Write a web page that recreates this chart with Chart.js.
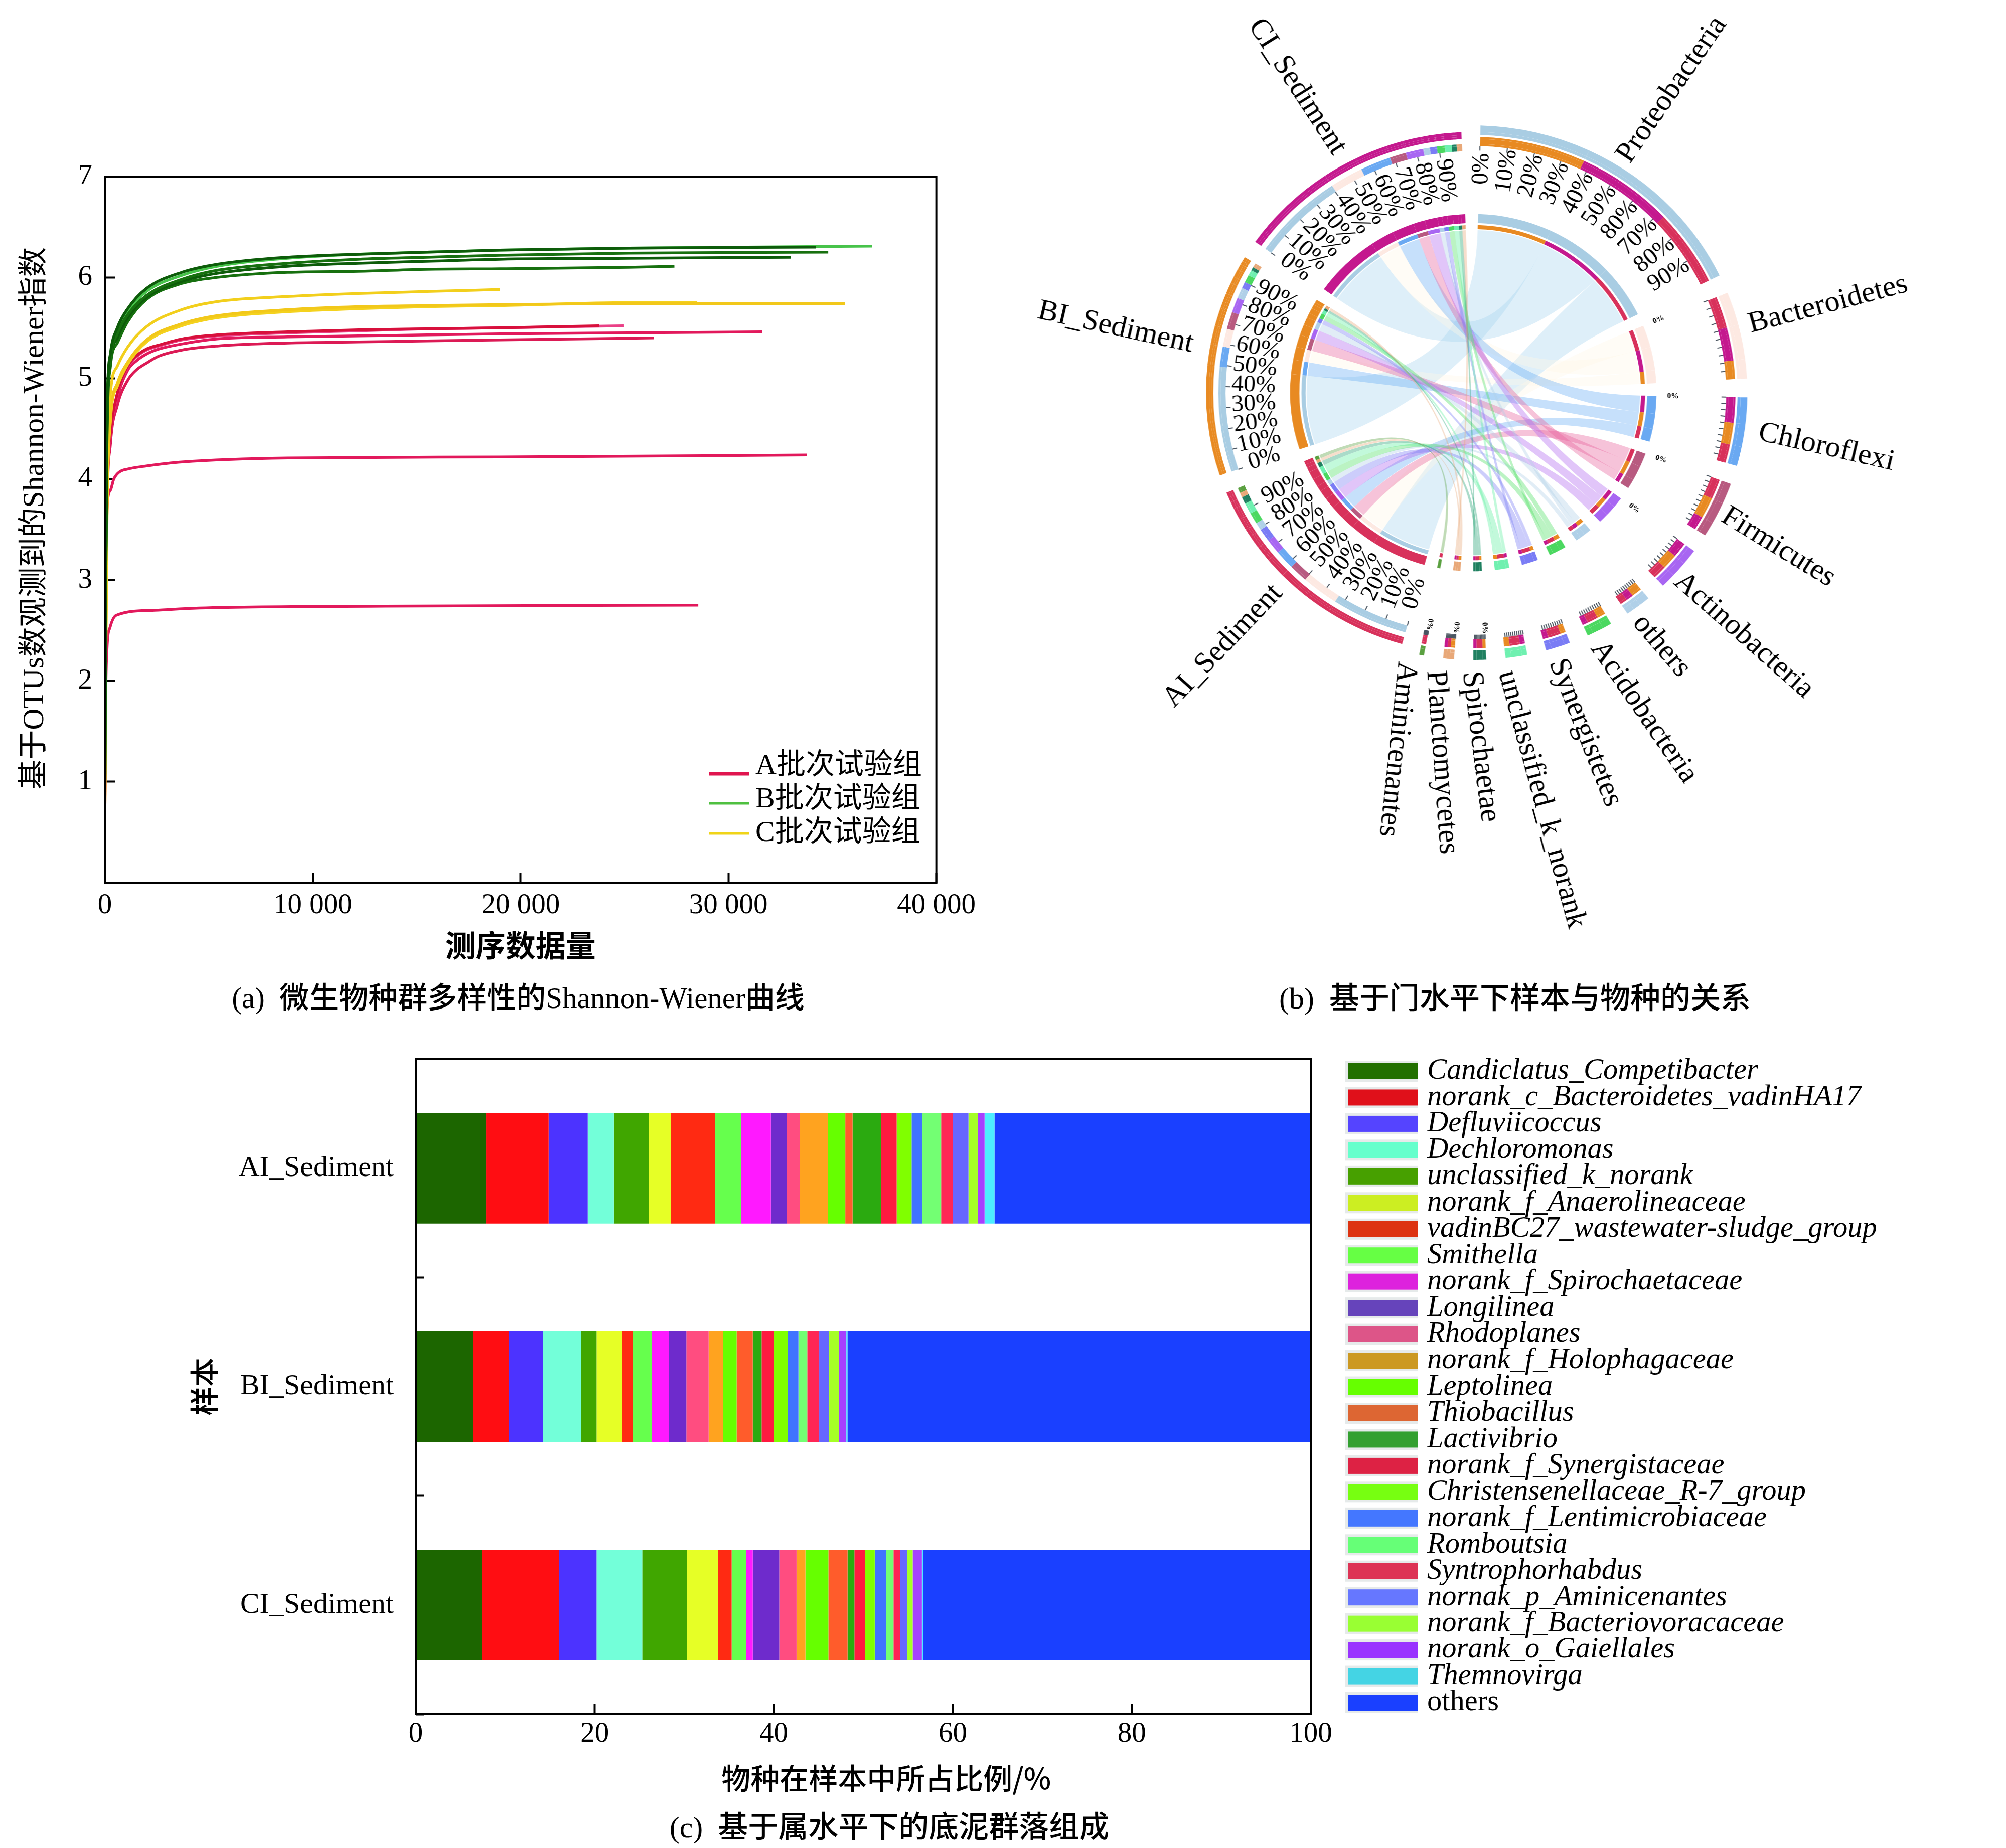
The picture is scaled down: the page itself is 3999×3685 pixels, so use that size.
<!DOCTYPE html>
<html>
<head>
<meta charset="utf-8">
<script src="https://cdn.jsdelivr.net/npm/chart.js@4"></script>
<style>
body { margin: 0; background: #fff; width: 3999px; height: 3685px; position: relative; overflow: hidden; }
canvas { position: absolute; }
.cap { position: absolute; font: 60px "Liberation Serif", "Noto Sans CJK SC"; color: #000; white-space: pre; transform: translate(-50%, -50%); }
.cap b { font-family: "Noto Sans CJK SC"; font-weight: 500; }
</style>
</head>
<body>
<canvas id="curveChart" width="1977" height="2040" style="left:0;top:0"></canvas>
<canvas id="chordChart" width="2049" height="2040" style="left:1950px;top:0;transform:scaleX(1.025);transform-origin:987px 0"></canvas>
<canvas id="barChart" width="3999" height="1669" style="left:0;top:2016px"></canvas>
<div class="cap" style="left:1033px;top:1984px;font-size:59px">(a)  <b>微生物种群多样性的</b>Shannon-Wiener<b>曲线</b></div>
<div class="cap" style="left:3020px;top:1984px">(b)  <b>基于门水平下样本与物种的关系</b></div>
<div class="cap" style="left:1773px;top:3637px">(c)  <b>基于属水平下的底泥群落组成</b></div>
<script>
const SERIF = '"Liberation Serif", "Noto Sans CJK SC"';

// (a) Shannon-Wiener curves, [sequences, index]
const curveA1 = [[0,0.5],[30,2.2],[100,3.8],[270,4.45],[600,4.85],[1100,5.12],[1500,5.22],[2000,5.29],[2600,5.33],[3700,5.39],[5400,5.43],[8800,5.46],[12200,5.48],[15500,5.49],[19000,5.5],[23770,5.52]];
const curveA2 = [[0,0.5],[30,2.2],[100,3.8],[270,4.44],[600,4.84],[1100,5.11],[1500,5.21],[2000,5.28],[2600,5.32],[3700,5.38],[5400,5.42],[8800,5.45],[12200,5.47],[15500,5.49],[19000,5.5],[24950,5.52]];
const curveA3 = [[0,0.5],[30,2.1],[100,3.7],[270,4.4],[600,4.8],[1100,5.08],[1500,5.17],[2000,5.24],[2600,5.29],[3700,5.34],[5400,5.39],[8800,5.41],[12200,5.42],[15500,5.43],[19000,5.44],[25200,5.45],[31630,5.46]];
const curveA4 = [[0,0.5],[30,2.0],[100,3.6],[270,4.35],[600,4.73],[1100,4.98],[1500,5.08],[2000,5.15],[2600,5.22],[3700,5.28],[5400,5.32],[8800,5.35],[12200,5.36],[15500,5.37],[19000,5.38],[26400,5.4]];
const curveA5 = [[0,0.5],[20,1.5],[50,2.8],[100,3.69],[270,3.89],[430,4.0],[694,4.07],[1100,4.1],[2000,4.13],[3700,4.17],[8800,4.21],[19000,4.22],[33780,4.24]];
const curveA6 = [[0,0.5],[30,1.6],[100,2.3],[250,2.53],[550,2.65],[2400,2.7],[4250,2.72],[13500,2.74],[28550,2.75]];
const curveB1 = [[0,0.5],[30,2.6],[100,4.5],[270,5.22],[600,5.46],[1100,5.66],[2000,5.86],[3700,6.02],[5400,6.11],[8800,6.19],[12200,6.23],[15500,6.25],[19000,6.27],[25200,6.29],[36900,6.31]];
const curveB2 = [[0,0.5],[30,2.6],[100,4.6],[270,5.25],[600,5.5],[1100,5.69],[2000,5.89],[3700,6.05],[5400,6.13],[8800,6.2],[12200,6.23],[15500,6.25],[19000,6.27],[25200,6.29],[34200,6.3]];
const curveB3 = [[0,0.5],[30,2.6],[100,4.5],[270,5.2],[600,5.44],[1100,5.63],[2000,5.82],[3700,5.98],[5400,6.07],[8800,6.14],[12200,6.18],[15500,6.2],[19000,6.22],[25200,6.24],[34800,6.25]];
const curveB4 = [[0,0.5],[30,2.5],[100,4.4],[270,5.17],[600,5.4],[1100,5.6],[2000,5.8],[3700,5.96],[5400,6.04],[8800,6.11],[12200,6.14],[15500,6.16],[19000,6.18],[25200,6.19],[33000,6.2]];
const curveB5 = [[0,0.5],[30,2.5],[100,4.3],[270,5.12],[600,5.35],[1100,5.56],[2000,5.78],[3700,5.94],[5400,6.0],[8800,6.05],[12200,6.06],[15500,6.08],[19000,6.085],[25200,6.1],[27400,6.11]];
const curveC1 = [[0,0.5],[30,1.8],[100,3.9],[270,4.85],[600,5.12],[1100,5.31],[2000,5.51],[3700,5.68],[5400,5.76],[8800,5.81],[12200,5.84],[15500,5.86],[19000,5.88]];
const curveC2 = [[0,0.5],[30,1.7],[100,3.6],[270,4.6],[600,4.95],[1100,5.16],[2000,5.38],[3700,5.54],[5400,5.62],[8800,5.68],[12200,5.71],[15500,5.72],[19000,5.73],[25200,5.74],[35600,5.74]];
const curveC3 = [[0,0.5],[30,1.7],[100,3.5],[270,4.58],[600,4.92],[1100,5.14],[2000,5.36],[3700,5.52],[5400,5.6],[8800,5.66],[12200,5.69],[15500,5.71],[19000,5.72],[25200,5.75],[28500,5.75]];
const curveXLabels = ['0', '10 000', '20 000', '30 000', '40 000'];
const curveLegendNames = ['A批次试验组', 'B批次试验组', 'C批次试验组'];
const curveLegendColors = ['#e0154f', '#4fc040', '#f0d418'];

// (b) chord flows: sector angle widths, one row per sample
const phyla = ['Proteobacteria', 'Bacteroidetes', 'Chloroflexi', 'Firmicutes', 'Actinobacteria', 'others', 'Acidobacteria', 'Synergistetes', 'unclassified_k_norank', 'Spirochaetae', 'Planctomycetes', 'Aminicenantes'];
const samples = ['AI_Sediment', 'BI_Sediment', 'CI_Sediment'];
const phylumSideAI = [17.4, 7.2, 4.2, 4.5, 3.1, 1.6, 2.4, 2.8, 2.3, 1.3, 0.7, 1.0];
const phylumSideBI = [23.5, 4.2, 4.9, 4.7, 3.4, 2.3, 1.9, 1.2, 1.2, 0.7, 0.9, 0];
const phylumSideCI = [21.6, 7.5, 5.8, 3.1, 3.4, 1.6, 1.2, 1.2, 1.1, 0.7, 0.7, 0];
const sampleSideAI = [17.4, 8.4, 4.5, 4.3, 3.5, 1.8, 2.6, 3.0, 2.6, 1.6, 1.1, 1.2];
const sampleSideBI = [24.5, 4.2, 4.7, 4.0, 3.5, 2.5, 1.8, 1.5, 1.3, 0.8, 1.0, 0];
const sampleSideCI = [21, 7.6, 7, 3.7, 4, 1.5, 1.8, 1.6, 1.6, 1.1, 1.2, 0];
const orderOnPhylum = [[1,2,0],[0,2,1],[2,1,0],[0,1,2],[2,1,0],[1,2,0],[1,0,2],[1,0,2],[2,0,1],[1,0,2],[1,0,2],[0]];
const orderOnAI = [0,1,3,2,4,7,5,6,8,9,10,11];
const orderOnBI = [0,2,1,3,4,5,7,6,8,9,10,11];
const orderOnCI = [0,1,2,3,4,5,7,6,8,9,10];
const phylumColors = ['#a9cde3', '#fde9e2', '#6aa9f2', '#b85a80', '#a866f2', '#b0d0e8', '#4bd860', '#7a7cf5', '#6ff0b0', '#1f8060', '#e8a878', '#5aa040'];
const ribbonColors = ['#a9d6f0', '#fff6e8', '#6aaef5', '#e8609a', '#b066f0', '#b0d0e8', '#4be060', '#7a7cf5', '#5ff0a0', '#20a070', '#e8a878', '#5aa040'];
const sampleColors = ['#d8315b', '#e88a22', '#c4188e'];
const percentLabels = ['0%', '10%', '20%', '30%', '40%', '50%', '60%', '70%', '80%', '90%'];
const proteoLabels = ['0%', '10%', '20%', '30%', '40%', '50%', '80%', '70%', '80%', '90%'];
// text placement of the sector names: name, page x, page y, rotation in degrees
const chordNames = [
	['Proteobacteria', 3333, 179, -56], ['Bacteroidetes', 3644, 607, -15], ['Chloroflexi', 3641, 892, 13],
	['Firmicutes', 3545, 1091, 32], ['Actinobacteria', 3476, 1267, 42], ['others', 3312, 1288, 50],
	['Acidobacteria', 3277, 1420, 56], ['Synergistetes', 3160, 1461, 69], ['unclassified_k_norank', 3073, 1594, 75],
	['Spirochaetae', 2951, 1489, 83], ['Planctomycetes', 2874, 1520, 86], ['Aminicenantes', 2785, 1494, 96],
	['AI_Sediment', 2438, 1288, -47], ['BI_Sediment', 2224, 653, 12.7], ['CI_Sediment', 2586, 173, 57.5]
];

// (c) genus composition
const sediments = ['AI_Sediment', 'BI_Sediment', 'CI_Sediment'];
const genera = ['Candiclatus_Competibacter', 'norank_c_Bacteroidetes_vadinHA17', 'Defluviicoccus', 'Dechloromonas', 'unclassified_k_norank', 'norank_f_Anaerolineaceae', 'vadinBC27_wastewater-sludge_group', 'Smithella', 'norank_f_Spirochaetaceae', 'Longilinea', 'Rhodoplanes', 'norank_f_Holophagaceae', 'Leptolinea', 'Thiobacillus', 'Lactivibrio', 'norank_f_Synergistaceae', 'Christensenellaceae_R-7_group', 'norank_f_Lentimicrobiaceae', 'Romboutsia', 'Syntrophorhabdus', 'nornak_p_Aminicenantes', 'norank_f_Bacteriovoracaceae', 'norank_o_Gaiellales', 'Themnovirga', 'others'];
const sharesAI = [7.85, 6.99, 4.37, 2.92, 3.90, 2.49, 4.89, 2.92, 3.34, 1.76, 1.50, 3.09, 1.97, 0.81, 3.17, 1.76, 1.67, 1.16, 2.14, 1.33, 1.72, 1.03, 0.77, 1.11, 35.33];
const sharesBI = [6.35, 4.07, 3.77, 4.29, 1.72, 2.83, 1.24, 2.10, 1.93, 1.93, 2.49, 1.59, 1.54, 1.80, 0.99, 1.37, 1.54, 1.20, 0.99, 1.33, 1.11, 1.11, 0.81, 0.13, 51.76];
const sharesCI = [7.38, 8.62, 4.20, 5.10, 5.02, 3.47, 1.50, 1.63, 0.73, 2.96, 1.93, 0.99, 2.57, 2.14, 0.77, 1.20, 1.07, 1.29, 0.81, 0.73, 0.77, 0.64, 1.03, 0.13, 43.31];
const barColors = ['#1c6600', '#ff0d12', '#4c33ff', '#73ffd9', '#40a600', '#e6ff26', '#ff2a12', '#66ff4d', '#ff19ff', '#6e2bcc', '#ff4d80', '#ffa31f', '#66ff00', '#ff5c2b', '#2baa10', '#ff1a40', '#80ff00', '#4073ff', '#73ff73', '#ff2655', '#6666ff', '#a6ff26', '#a640ff', '#4deeff', '#1a40ff'];
const swatchColors = ['#227000', '#e0101a', '#5544ff', '#66ffcc', '#47a000', '#ccee22', '#dd3311', '#66ff44', '#dd22dd', '#6644bb', '#dd5588', '#cc9922', '#66ff00', '#dd6633', '#33a030', '#dd2244', '#77ff11', '#4477ff', '#66ff77', '#dd3355', '#6677ff', '#99ff33', '#9933ff', '#44d4e4', '#1a40ff'];

Chart.defaults.animation = false;
Chart.defaults.events = [];
Chart.defaults.plugins.legend.display = false;
Chart.defaults.plugins.tooltip.enabled = false;
Chart.defaults.color = '#000';

const frame = {
	id: 'frame',
	afterDraw(chart) {
		const a = chart.chartArea, ctx = chart.ctx;
		ctx.save();
		ctx.lineWidth = 4;
		ctx.strokeStyle = '#000';
		ctx.strokeRect(a.left, a.top, a.right - a.left, a.bottom - a.top);
		ctx.restore();
	}
};

const curveLine = (data, color) => ({ data, borderColor: color, borderWidth: 5.5, pointRadius: 0, cubicInterpolationMode: 'monotone' });

new Chart(document.getElementById('curveChart'), {
	type: 'line',
	data: {
		datasets: [
			curveLine(curveB2, '#0d5c0a'), curveLine(curveB3, '#17700f'), curveLine(curveB4, '#0d5c0a'), curveLine(curveB5, '#17700f'), curveLine(curveB1, '#47c34a'),
			curveLine(curveC1, '#f2cf1c'), curveLine(curveC2, '#f2c81a'), curveLine(curveC3, '#f4d21e'),
			curveLine(curveA1, '#d8103c'), curveLine(curveA2, '#ea3f86'), curveLine(curveA3, '#e2195c'), curveLine(curveA4, '#dc1a55'), curveLine(curveA5, '#e2195c'), curveLine(curveA6, '#e2195c')
		]
	},
	options: {
		responsive: false,
		layout: { padding: { left: 0, right: 54, top: 352, bottom: 119 } },
		scales: {
			x: {
				type: 'linear', min: 0, max: 40000,
				border: { display: false },
				grid: { drawOnChartArea: false, tickLength: -20, tickWidth: 4, tickColor: '#000' },
				ticks: { stepSize: 10000, maxRotation: 0, padding: 32, font: { family: SERIF, size: 57 }, callback: (v, i) => curveXLabels[i] },
				title: { display: true, text: '测序数据量', font: { family: '"Noto Sans CJK SC"', size: 60, weight: 'bold' }, padding: 0 },
				afterFit: s => { s.height = 161; }
			},
			y: {
				min: 0, max: 7,
				border: { display: false },
				grid: { drawOnChartArea: false, tickLength: -20, tickWidth: 4, tickColor: '#000' },
				ticks: { stepSize: 1, padding: 45, font: { family: SERIF, size: 57 }, callback: v => v === 0 ? '' : v },
				title: { display: true, text: '   基于OTUs数观测到的Shannon-Wiener指数', font: { family: SERIF, size: 59.5 }, padding: { top: 35, bottom: 0 } },
				afterFit: s => { s.width = 209; }
			}
		}
	},
	plugins: [frame, {
		id: 'curveLegend',
		afterDraw(chart) {
			const ctx = chart.ctx, lineY = [1543, 1602, 1662], textY = [1528, 1595, 1662];
			ctx.save();
			ctx.font = '58px ' + SERIF;
			ctx.textBaseline = 'middle';
			curveLegendNames.forEach((name, i) => {
				ctx.strokeStyle = curveLegendColors[i];
				ctx.lineWidth = i ? 5 : 7;
				ctx.beginPath();
				ctx.moveTo(1414, lineY[i]);
				ctx.lineTo(1494, lineY[i]);
				ctx.stroke();
				ctx.fillStyle = '#000';
				ctx.fillText(name, 1506, textY[i]);
			});
			ctx.restore();
		}
	}]
});

// one flat list of slices running round the circle, every ring paints it its own way
const phylumSide = [phylumSideAI, phylumSideBI, phylumSideCI];
const sampleSide = [sampleSideAI, sampleSideBI, sampleSideCI];
const sampleOrders = [orderOnAI, orderOnBI, orderOnCI];
const slices = [];
const sectors = [];
const gap = { gap: true, value: 0 };
phyla.forEach((name, p) => {
	const first = slices.length;
	orderOnPhylum[p].forEach(s => slices.push({ value: phylumSide[s][p], kind: 'phylum', sector: phylumColors[p], sub: sampleColors[s], p, s }));
	sectors.push({ name, first, last: slices.length - 1, kind: 'phylum' });
	slices.push(gap);
});
samples.forEach((name, s) => {
	const first = slices.length;
	sampleOrders[s].forEach(p => slices.push({ value: sampleSide[s][p], kind: 'sample', sector: sampleColors[s], sub: phylumColors[p], p, s }));
	sectors.push({ name, first, last: slices.length - 1, kind: 'sample' });
	slices.push(gap);
});
const flowTotal = slices.reduce((t, x) => t + x.value, 0);
const gapWidth = (360 - flowTotal) / sectors.length;
const sliceValues = slices.map(x => x.gap ? gapWidth : x.value);

const NONE = 'rgba(0,0,0,0)';
// weight, then colour of a slice in that ring; outermost ring first
const rings = [
	[13, x => x.kind === 'phylum' ? x.sector : NONE],
	[6, x => x.gap ? NONE : x.sector],
	[4, x => x.kind === 'sample' ? x.sector : NONE],
	[4, x => x.kind === 'phylum' ? x.sub : x.kind === 'sample' ? x.sector : NONE],
	[10, x => x.kind === 'phylum' ? x.sub : NONE],
	[4, x => x.gap ? NONE : x.sub],
	[10, x => x.kind === 'sample' ? x.sub : NONE],
	[125, () => NONE],
	[18, x => x.gap ? NONE : x.sector],
	[4, () => NONE],
	[8, x => x.gap ? NONE : x.sub]
];

const chordPlugin = {
	id: 'chord',
	beforeDatasetsDraw(chart) {
		const ctx = chart.ctx, inner = chart.getDatasetMeta(rings.length - 1).data;
		const find = (kind, p, s) => inner[slices.findIndex(x => x.kind === kind && x.p === p && x.s === s)];
		ctx.save();
		ctx.globalAlpha = 0.38;
		phyla.forEach((name, p) => {
			samples.forEach((sname, s) => {
				const a = find('sample', p, s), b = find('phylum', p, s);
				if (!a || !b || phylumSide[s][p] === 0) return;
				const r = a.innerRadius - 2, cx = a.x, cy = a.y;
				ctx.fillStyle = ribbonColors[p];
				ctx.beginPath();
				ctx.arc(cx, cy, r, a.startAngle, a.endAngle);
				ctx.quadraticCurveTo(cx, cy, cx + r * Math.cos(b.startAngle), cy + r * Math.sin(b.startAngle));
				ctx.arc(cx, cy, r, b.startAngle, b.endAngle);
				ctx.quadraticCurveTo(cx, cy, cx + r * Math.cos(a.startAngle), cy + r * Math.sin(a.startAngle));
				ctx.closePath();
				ctx.fill();
			});
		});
		ctx.restore();
	},
	afterDraw(chart) {
		const ctx = chart.ctx, els = chart.getDatasetMeta(0).data;
		const cx = els[0].x, cy = els[0].y, R = els[0].outerRadius, k = R / 531;
		ctx.save();
		ctx.fillStyle = '#000';
		ctx.textAlign = 'center';
		ctx.textBaseline = 'middle';
		sectors.forEach((sec, n) => {
			const start = els[sec.first].startAngle, end = els[sec.last].endAngle;
			// ticks inside the second ring
			const tickR = sec.kind === 'phylum' ? 490 : 480;
			ctx.strokeStyle = '#4a5560';
			ctx.lineWidth = 2;
			percentLabels.forEach((t, i) => {
				const ang = start + (end - start) * i / 10;
				ctx.beginPath();
				ctx.moveTo(cx + tickR * k * Math.cos(ang), cy + tickR * k * Math.sin(ang));
				ctx.lineTo(cx + (tickR - 9) * k * Math.cos(ang), cy + (tickR - 9) * k * Math.sin(ang));
				ctx.stroke();
			});
			if (sec.name === 'Proteobacteria' || sec.kind === 'sample') {
				const labels = sec.kind === 'sample' ? percentLabels : proteoLabels;
				const textR = sec.kind === 'sample' ? [415, 426, 425][n - phyla.length] : 445;
				ctx.font = '47px ' + SERIF;
				labels.forEach((t, i) => {
					const ang = start + (end - start) * i / 10 + 0.01;
					ctx.save();
					ctx.translate(cx + textR * k * Math.cos(ang), cy + textR * k * Math.sin(ang));
					ctx.rotate(sec.kind === 'sample' ? ang + Math.PI : ang);
					ctx.fillText(t, 0, 0);
					ctx.restore();
				});
			} else if (n <= 4 || n >= 9) {
				// the percent labels of the narrow sectors collapse into a smudge
				const smudgeR = n <= 4 ? 387 : 468;
				ctx.font = 'bold 15px ' + SERIF;
				ctx.save();
				ctx.translate(cx + smudgeR * k * Math.cos(start), cy + smudgeR * k * Math.sin(start));
				ctx.rotate(start);
				ctx.fillText('0%', 0, 0);
				ctx.restore();
			}
		});
		ctx.font = '58.5px ' + SERIF;
		chordNames.forEach(([name, x, y, rot]) => {
			ctx.save();
			// the canvas is widened by css, so undo that for the page position of the text
			ctx.translate(987 + (x - 2937) / 1.025, y);
			ctx.rotate(rot * Math.PI / 180);
			ctx.fillText(name, 0, 0);
			ctx.restore();
		});
		ctx.restore();
	}
};

new Chart(document.getElementById('chordChart'), {
	type: 'doughnut',
	data: {
		labels: slices.map((x, i) => 'slice ' + i),
		datasets: rings.map(([weight, paint]) => ({ data: sliceValues, weight, backgroundColor: slices.map(paint), borderWidth: 0 }))
	},
	options: {
		responsive: false,
		rotation: 1.5,
		cutout: (325 / 531 * 100) + '%',
		layout: { padding: { left: 454, right: 529, top: 250, bottom: 724 } }
	},
	plugins: [chordPlugin]
});

const byGenus = (g, i) => ({
	label: g,
	data: [sharesAI[i], sharesBI[i], sharesCI[i]],
	backgroundColor: barColors[i],
	borderWidth: 0,
	barPercentage: 0.506,
	categoryPercentage: 1
});

new Chart(document.getElementById('barChart'), {
	type: 'bar',
	data: { labels: sediments, datasets: genera.map(byGenus) },
	options: {
		responsive: false,
		indexAxis: 'y',
		layout: { padding: { left: 0, right: 1386, top: 45, bottom: 104 } },
		scales: {
			x: {
				stacked: true, min: 0, max: 100,
				border: { display: false },
				grid: { drawOnChartArea: false, tickLength: -20, tickWidth: 4, tickColor: '#000' },
				ticks: { stepSize: 20, maxRotation: 0, padding: 26, font: { family: SERIF, size: 57 } },
				title: { display: true, text: '       物种在样本中所占比例/%', font: { family: '"Noto Sans CJK SC"', size: 58, weight: 500 }, padding: 0 },
				afterFit: s => { s.height = 163; }
			},
			y: {
				stacked: true,
				border: { display: false },
				grid: { drawOnChartArea: false, offset: true, tickLength: -17, tickWidth: 4, tickColor: '#000' },
				ticks: { padding: 61, font: { family: SERIF, size: 58 } },
				title: { display: true, text: '样本', font: { family: '"Noto Sans CJK SC"', size: 58, weight: 500 }, padding: { top: 372, bottom: 0 } },
				afterFit: s => { s.width = 829; }
			}
		}
	},
	plugins: [frame, {
		id: 'genusLegend',
		afterDraw(chart) {
			const ctx = chart.ctx;
			ctx.save();
			ctx.textBaseline = 'middle';
			genera.forEach((name, i) => {
				const y = 120 + i * 52.46;
				ctx.fillStyle = '#e6eaea';
				ctx.fillRect(2682, y - 21, 144, 42);
				ctx.fillStyle = swatchColors[i];
				ctx.fillRect(2687, y - 16, 139, 32);
				ctx.fillStyle = '#000';
				ctx.font = (name === 'others' ? '' : 'italic ') + '58.5px ' + SERIF;
				ctx.fillText(name, 2845, y);
			});
			ctx.restore();
		}
	}]
});
</script>
</body>
</html>
